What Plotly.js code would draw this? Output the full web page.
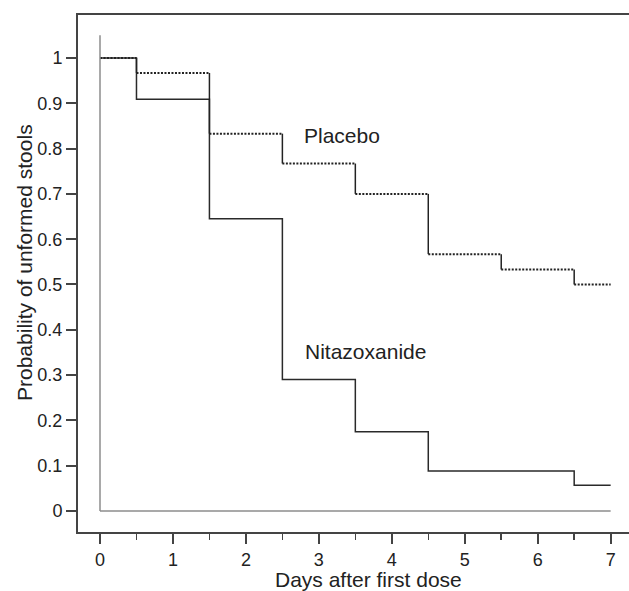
<!DOCTYPE html>
<html>
<head>
<meta charset="utf-8">
<script src="https://cdn.plot.ly/plotly-3.0.1.min.js"></script>
<style>
  html, body { margin: 0; padding: 0; background: #fff; }
  #chart { width: 629px; height: 591px; }
</style>
</head>
<body>
<div id="chart"></div>
<script>
// Step times (days after first dose)
const days = [0, 0.5, 1.5, 2.5, 3.5, 4.5, 5.5, 6.5, 7];
// Kaplan-Meier survival estimates
const placebo = [1.000, 0.967, 0.833, 0.767, 0.700, 0.567, 0.533, 0.500, 0.500];
const nitazoxanide = [1.000, 0.909, 0.645, 0.290, 0.175, 0.088, 0.088, 0.057, 0.057];
// Tick values
const xTicks = [0, 1, 2, 3, 4, 5, 6, 7];
const yTicks = [0, 0.1, 0.2, 0.3, 0.4, 0.5, 0.6, 0.7, 0.8, 0.9, 1];
const labels = ["Placebo", "Nitazoxanide"];

const FONT = "Liberation Sans, Arial, sans-serif";

// Placebo: dotted horizontal runs, solid vertical drops
const phx = [], phy = [], pvx = [], pvy = [];
for (let i = 0; i < days.length - 1; i++) {
  phx.push(days[i], days[i + 1], null);
  phy.push(placebo[i], placebo[i], null);
  if (placebo[i + 1] !== placebo[i]) {
    pvx.push(days[i + 1], days[i + 1], null);
    pvy.push(placebo[i], placebo[i + 1], null);
  }
}

const traces = [
  { x: days, y: nitazoxanide, mode: 'lines', line: { shape: 'hv', color: '#2a2a2a', width: 1.5 }, name: labels[1], hoverinfo: 'skip' },
  { x: pvx, y: pvy, mode: 'lines', line: { color: '#222', width: 1.5 }, name: labels[0], hoverinfo: 'skip' },
  { x: phx, y: phy, mode: 'lines', line: { color: '#222', width: 2, dash: '2px,1.5px' }, name: labels[0], hoverinfo: 'skip' }
];

const layout = {
  width: 629, height: 591,
  margin: { l: 78, r: 0, t: 15, b: 59, pad: 0 },
  paper_bgcolor: '#fff', plot_bgcolor: '#fff',
  showlegend: false,
  font: { family: FONT, color: '#222' },
  xaxis: {
    range: [-0.3016, 7.2515], tickvals: xTicks, ticktext: xTicks.map(String),
    showgrid: false, zeroline: false, showline: true, mirror: true,
    linecolor: '#444', linewidth: 2,
    ticks: 'outside', ticklen: 10, tickwidth: 2, tickcolor: '#444',
    minor: { dtick: 0.5, tick0: 0, ticks: 'outside', ticklen: 6, tickwidth: 1.5, tickcolor: '#444', showgrid: false },
    tickfont: { size: 18, family: FONT, color: '#222' },
    fixedrange: true
  },
  yaxis: {
    range: [-0.0464, 1.0949], tickvals: yTicks, ticktext: yTicks.map(v => String(+v.toFixed(1))),
    showgrid: false, zeroline: false, showline: true,
    linecolor: '#444', linewidth: 2,
    ticks: 'outside', ticklen: 10, tickwidth: 2, tickcolor: '#444',
    tickfont: { size: 18, family: FONT, color: '#222' },
    fixedrange: true
  },
  shapes: [
    { type: 'line', xref: 'x', yref: 'y', x0: days[0], x1: days[0], y0: 0, y1: 1.05, line: { color: '#8c8c8c', width: 1.5 } },
    { type: 'line', xref: 'x', yref: 'y', x0: days[0], x1: days[days.length - 1], y0: 0, y1: 0, line: { color: '#8c8c8c', width: 1.5 } }
  ],
  annotations: [
    { text: labels[0], x: 2.77, y: 0.83, xref: 'x', yref: 'y', xanchor: 'left', yanchor: 'middle', showarrow: false, font: { size: 21, family: FONT, color: '#222' } },
    { text: labels[1], x: 2.78, y: 0.352, xref: 'x', yref: 'y', xanchor: 'left', yanchor: 'middle', showarrow: false, font: { size: 21, family: FONT, color: '#222' } },
    { text: 'Days after first dose', x: 0.528, y: -0.0928, xref: 'paper', yref: 'paper', xanchor: 'center', yanchor: 'middle', showarrow: false, font: { size: 21, family: FONT, color: '#222' } },
    { text: 'Probability of unformed stools', x: -0.098, y: 0.5203, xref: 'paper', yref: 'paper', xanchor: 'center', yanchor: 'middle', textangle: -90, showarrow: false, font: { size: 21, family: FONT, color: '#222' } }
  ]
};

Plotly.newPlot('chart', traces, layout, { staticPlot: true, displayModeBar: false });
</script>
</body>
</html>
